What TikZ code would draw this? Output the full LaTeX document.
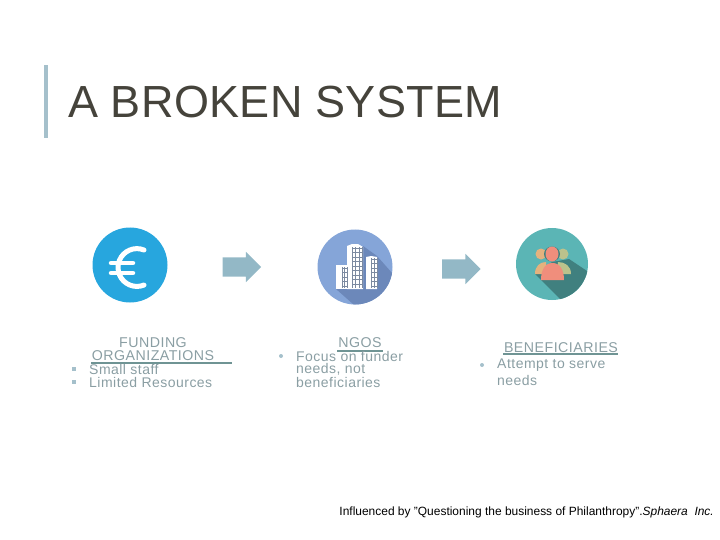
\documentclass[tikz,border=0pt]{standalone}
\usepackage{fontspec}
\usetikzlibrary{shapes.arrows}
\setmainfont[Ligatures=NoCommon]{Liberation Sans}
\newfontfamily\titlefont[LetterSpace=0.7]{Liberation Sans}
\newfontfamily\bodyfont[LetterSpace=3.4]{Liberation Sans}
\definecolor{titlegray}{HTML}{45433B}
\definecolor{barblue}{HTML}{A5C0CB}
\definecolor{bodygray}{HTML}{8A9EA3}
\definecolor{ruleteal}{HTML}{6F9494}
\definecolor{arrowblue}{HTML}{93B8C6}
\definecolor{euroblue}{HTML}{27A6DE}
\definecolor{ngoblue}{HTML}{85A5D8}
\definecolor{ngodark}{HTML}{6C88BA}
\definecolor{gridgray}{HTML}{7C8AA0}
\definecolor{peopleteal}{HTML}{5BB5B5}
\definecolor{peopledark}{HTML}{40807F}
\definecolor{salmon}{HTML}{F08E7C}
\definecolor{tanface}{HTML}{E4B27E}
\definecolor{sagegreen}{HTML}{BCC28C}
\tikzset{
  body/.style={inner sep=0pt,anchor=west,text=bodygray,font=\bodyfont\fontsize{14}{14}\selectfont},
  head/.style={inner sep=0pt,text=bodygray,font=\bodyfont\fontsize{14.2}{14}\selectfont},
  dot/.style={circle,fill=barblue,inner sep=0pt,minimum size=4pt},
  square/.style={rectangle,fill=barblue,inner sep=0pt,minimum size=4.5pt},
  flow/.style={single arrow,fill=arrowblue,inner xsep=0pt,inner ysep=9.5pt,minimum height=38.5pt,minimum width=0pt,single arrow head extend=5.5pt,single arrow head indent=0pt},
  icon/.style={circle,inner sep=0pt,minimum size=75pt}
}
\begin{document}
\begin{tikzpicture}[x=1pt,y=-1pt]
            \useasboundingbox (0,0) rectangle (720,540);
            \fill[barblue] (44,65) rectangle (47.5,138);
            \node[inner sep=0pt,anchor=base west,text=titlegray,font=\titlefont\fontsize{45}{45}\selectfont] (title) at (68,118) {A BROKEN SYSTEM};

            % euro icon
            \node[icon,fill=euroblue] (euro) at (130,265) {};
            \draw[white,line width=5pt,line cap=round] (144,250) arc[start angle=-68,end angle=-292,radius=18.9];
            \draw[white,line width=4.5pt,line cap=round] (111,263) -- (133,263);
            \draw[white,line width=4.5pt,line cap=round] (111,273) -- (133,273);

            % building icon
            \node[icon,fill=ngoblue] (ngos) at (355,267) {};
            \begin{scope}
                \clip (355,267) circle (37.5);
                \fill[ngodark] (336,289) -- (363,246) -- (377,256) -- (400,282) -- (395,320) -- (362,312) -- cycle;
            \end{scope}
            \fill[white] (336,265) rectangle (348,289);
            \fill[white] (347,246) -- (352,244) -- (358,244) -- (363,247) -- (363,289) -- (347,289) -- cycle;
            \fill[white] (366,257) -- (371,256) -- (377,257) -- (377,289) -- (366,289) -- cycle;
            \foreach \x in {352,355.5,359,362.5}
                \draw[gridgray,line width=0.6pt] (\x,247) -- (\x,288);
            \foreach \x in {371,374,377}
                \draw[gridgray,line width=0.6pt] (\x,258) -- (\x,288);
            \foreach \x in {342,344.5,347}
                \draw[gridgray,line width=0.6pt] (\x,267) -- (\x,288);
            \foreach \y in {248,252.5,...,288}
                \draw[gridgray,line width=0.5pt] (352,\y) -- (362.5,\y);
            \foreach \y in {259,263.5,...,288}
                \draw[gridgray,line width=0.5pt] (371,\y) -- (377,\y);
            \foreach \y in {268,272.5,...,288}
                \draw[gridgray,line width=0.5pt] (342,\y) -- (347,\y);

            % people icon
            \node[icon,fill=peopleteal,minimum size=72pt] (people) at (552,264) {};
            \begin{scope}
                \clip (552,264) circle (36);
                \fill[peopledark] (535,274) -- (562,301) -- (595,301) -- (587,271) -- (569,259) -- (552,262) -- cycle;
            \end{scope}
            \fill[tanface] (541,254) circle (5.5);
            \fill[sagegreen] (563,254) circle (5.5);
            \fill[tanface] (535,274) .. controls (535,266) and (540,262) .. (546,262) -- (547,274) -- cycle;
            \fill[sagegreen] (571,274) .. controls (571,266) and (565,262) .. (558,262) -- (557,274) -- cycle;
            \fill[peopledark] (552,254) ellipse (8 and 7.5);
            \fill[salmon] (552,254) ellipse (6.5 and 7.5);
            \fill[salmon] (541,280) .. controls (541,270) and (545,263) .. (552.5,263) .. controls (560,263) and (564,270) .. (564,280) -- cycle;

            % block arrows
            \node[flow] (flowa) at (237,267) {};
            \node[flow] (flowb) at (456.5,269) {};

            % funding column
            \node[head] (funding) at (153,343) {FUNDING};
            \node[head] (organizations) at (153,355.5) {ORGANIZATIONS};
            \draw[ruleteal,line width=2.5pt] (91,363) -- (232,363);
            \node[square] (bulletA) at (74,369) {};
            \node[square] (bulletB) at (74,382) {};
            \node[body] (staff) at (89,369) {Small staff};
            \node[body] (resources) at (89,382) {Limited Resources};

            % ngo column
            \node[head] (ngoshead) at (360,343) {NGOS};
            \draw[ruleteal,line width=1.5pt] (337,351) -- (383,351);
            \node[dot] (bulletC) at (281,356) {};
            \node[body] (focus) at (296,356) {Focus on funder};
            \node[body] (needs) at (296,369) {needs, not};
            \node[body] (benef) at (296,382) {beneficiaries};

            % beneficiaries column
            \node[head] (benefhead) at (561,347.5) {BENEFICIARIES};
            \draw[ruleteal,line width=1.5pt] (503,354) -- (618,354);
            \node[dot] (bulletD) at (482,365) {};
            \node[body] (attempt) at (497,365) {Attempt to serve};
            \node[body] (serve) at (497,380) {needs};

            \node[inner sep=0pt,anchor=base east,font=\fontsize{11.96}{12}\selectfont] (source) at (714,515) {Influenced by "Questioning the business of Philanthropy".\textit{Sphaera\ \ Inc.}};
        \end{tikzpicture}
\end{document}
